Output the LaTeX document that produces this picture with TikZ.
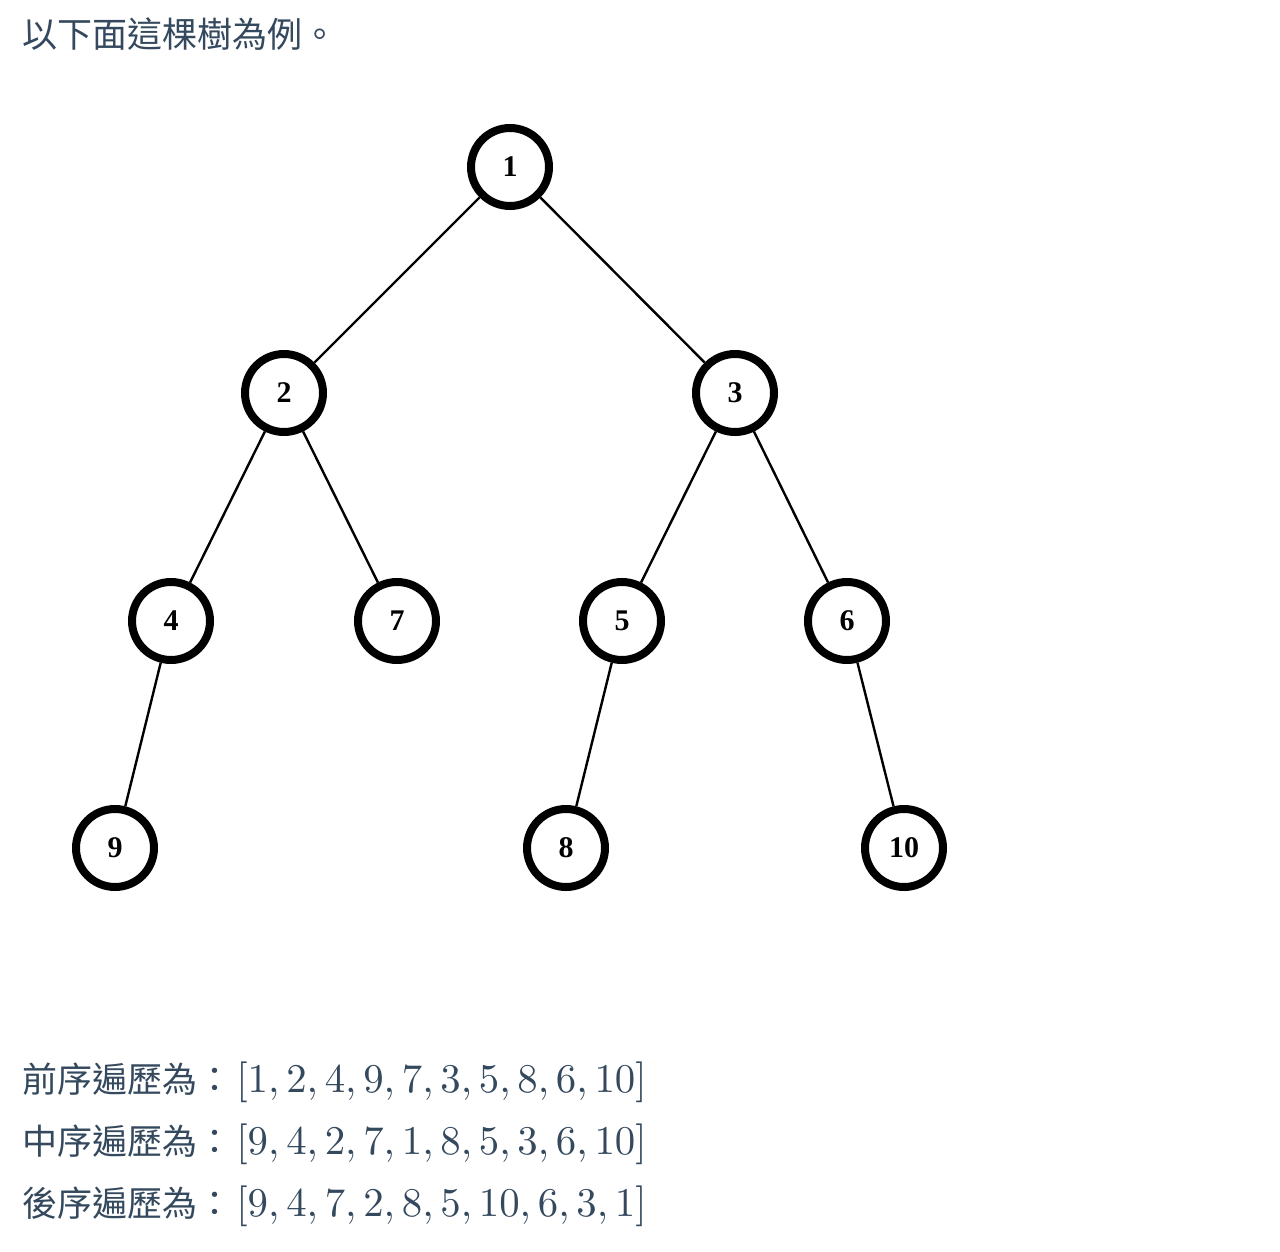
\documentclass[tikz,border=0pt]{standalone}
\usepackage{fontspec}
\usepackage{amsmath}
\usepackage{graphicx}
\newfontfamily\cjk{Noto Sans CJK TC}
\newfontfamily\nodefont{Liberation Serif}
\definecolor{slatetext}{RGB}{52,73,94}
\tikzset{
  treenode/.style={circle, draw=black, line width=4pt, minimum size=39pt, inner sep=0pt,
    font=\nodefont\bfseries\fontsize{15}{15}\selectfont},
  treeedge/.style={line width=1.2pt, black},
  caption/.style={anchor=base west, inner sep=0pt, text=slatetext}
}
\newcommand{\cjktext}[1]{{\fontsize{17.5}{20}\cjk #1}}
\newcommand{\seqtext}[1]{\hspace{2pt}\scalebox{2.04}{\fontsize{10}{12}\selectfont$#1$}}

\begin{document}
\begin{tikzpicture}[x=0.5pt,y=-0.5pt]
\useasboundingbox (0,0) rectangle (1280,1252);
% the tree
\node[treenode] (n1) at (510,167) {1};
\node[treenode] (n2) at (284,393) {2};
\node[treenode] (n3) at (735,393) {3};
\node[treenode] (n4) at (171,621) {4};
\node[treenode] (n7) at (397,621) {7};
\node[treenode] (n5) at (622,621) {5};
\node[treenode] (n6) at (847,621) {6};
\node[treenode] (n9) at (115,848) {9};
\node[treenode] (n8) at (566,848) {8};
\node[treenode] (n10) at (904,848) {10};
\foreach \a/\b in {n1/n2,n1/n3,n2/n4,n2/n7,n3/n5,n3/n6,n4/n9,n5/n8,n6/n10} {
  \draw[treeedge] (\a) -- (\b);
}
% text above and below
\node[caption] (title) at (22,48) {\cjktext{以下面這棵樹為例。}};
\node[caption] (pre) at (22,1092) {\cjktext{前序遍歷為：}\seqtext{[1,2,4,9,7,3,5,8,6,10]}};
\node[caption] (in) at (22,1154) {\cjktext{中序遍歷為：}\seqtext{[9,4,2,7,1,8,5,3,6,10]}};
\node[caption] (post) at (22,1216) {\cjktext{後序遍歷為：}\seqtext{[9,4,7,2,8,5,10,6,3,1]}};
\end{tikzpicture}
\end{document}
